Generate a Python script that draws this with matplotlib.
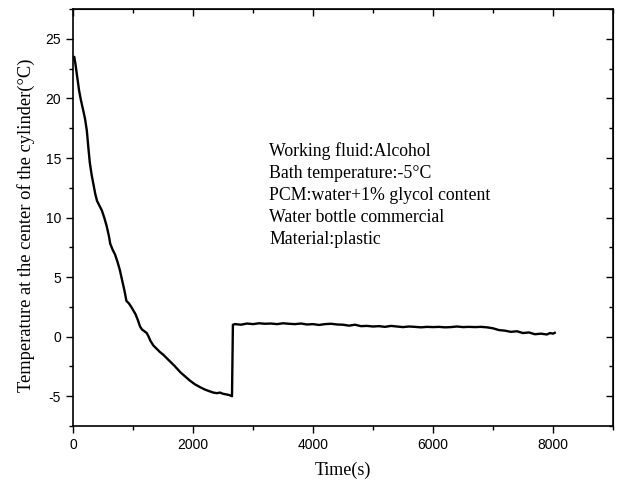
import matplotlib
matplotlib.use("Agg")
import matplotlib.pyplot as plt
from matplotlib.ticker import MultipleLocator

plt.rcParams["axes.unicode_minus"] = False

# Cooling curve at the cylinder centre: time (s) and temperature (°C)
time_s = [0, 20, 40, 70, 100, 130, 170, 200, 230, 255, 280, 310, 340, 370,
          400, 440, 480, 520, 560, 600, 620, 660, 700, 740, 780, 820, 860,
          890, 930, 970, 1005, 1040, 1080, 1117, 1150, 1190, 1228, 1260, 1290,
          1340, 1400, 1450, 1500, 1560, 1620, 1700, 1790, 1870, 1950, 2030,
          2120, 2200, 2280, 2340, 2400, 2450, 2500, 2550, 2600, 2650, 2665,
          2700, 2800, 2900, 3000, 3100, 3200, 3300, 3400, 3500, 3600, 3700,
          3800, 3900, 4000, 4100, 4200, 4300, 4400, 4500, 4600, 4700, 4800,
          4900, 5000, 5100, 5200, 5300, 5400, 5500, 5600, 5700, 5800, 5900,
          6000, 6100, 6200, 6300, 6400, 6500, 6600, 6700, 6800, 6900, 7000,
          7100, 7200, 7300, 7400, 7500, 7600, 7700, 7800, 7900, 7950, 8000,
          8030]
temp_c = [23.3, 23.5, 22.9, 21.8, 20.7, 19.9, 19.0, 18.3, 17.3, 15.9, 14.6,
          13.6, 12.8, 12.0, 11.4, 11.0, 10.6, 10.0, 9.3, 8.4, 7.8, 7.3, 6.9,
          6.3, 5.6, 4.7, 3.8, 3.0, 2.8, 2.5, 2.2, 1.9, 1.4, 0.85, 0.6, 0.45,
          0.3, 0.0, -0.35, -0.75, -1.05, -1.3, -1.5, -1.8, -2.1, -2.5, -3.0,
          -3.35, -3.7, -4.0, -4.25, -4.45, -4.6, -4.7, -4.75, -4.7, -4.8,
          -4.85, -4.9, -5.0, 1.0,
          1.05, 1.0, 1.1, 1.05, 1.12, 1.08, 1.1, 1.05, 1.12, 1.08, 1.05,
          1.1, 1.02, 1.05, 0.98, 1.05, 1.08, 1.02, 1.0, 0.92, 1.0, 0.88,
          0.9, 0.85, 0.88, 0.82, 0.9, 0.85, 0.8, 0.85, 0.82, 0.78, 0.82,
          0.8, 0.82, 0.78, 0.8, 0.85, 0.8, 0.82, 0.8, 0.82, 0.78, 0.7,
          0.55, 0.5, 0.4, 0.45, 0.3, 0.35, 0.2, 0.25, 0.18, 0.3, 0.25,
          0.32]

info_lines = [
    "Working fluid:Alcohol",
    "Bath temperature:-5°C",
    "PCM:water+1% glycol content",
    "Water bottle commercial",
    "Material:plastic",
]

serif = "Liberation Serif"
sans = "Liberation Sans"

fig = plt.figure(figsize=(6.21, 4.84), dpi=100)
ax = fig.add_axes([0.1176, 0.12, 0.8694, 0.861])

ax.plot(time_s, temp_c, color="black", linewidth=1.7)

ax.set_xlim(0, 9000)
ax.set_ylim(-7.5, 27.5)
ax.xaxis.set_major_locator(MultipleLocator(2000))
ax.xaxis.set_minor_locator(MultipleLocator(1000))
ax.yaxis.set_major_locator(MultipleLocator(5))
ax.yaxis.set_minor_locator(MultipleLocator(2.5))

# Origin-style ticks: outward on bottom/left, inward mirrors on top/right
ax.tick_params(which="both", direction="out", width=1.0, labelsize=10)
ax.tick_params(which="major", length=5)
ax.tick_params(which="minor", length=3)
for lbl in ax.get_xticklabels() + ax.get_yticklabels():
    lbl.set_family(sans)

top = ax.secondary_xaxis("top")
top.xaxis.set_major_locator(MultipleLocator(2000))
top.xaxis.set_minor_locator(MultipleLocator(1000))
top.set_xticklabels([])
right = ax.secondary_yaxis("right")
right.yaxis.set_major_locator(MultipleLocator(5))
right.yaxis.set_minor_locator(MultipleLocator(2.5))
right.set_yticklabels([])
for twin in (top, right):
    twin.tick_params(which="both", direction="in", width=1.0)
    twin.tick_params(which="major", length=5)
    twin.tick_params(which="minor", length=3)

for spine in ax.spines.values():
    spine.set_linewidth(1.2)

ax.set_xlabel("Time(s)", family=serif, fontsize=13, labelpad=7)
ax.set_ylabel("Temperature at the center of the cylinder(°C)", family=serif,
              fontsize=13.3)
ax.yaxis.set_label_coords(-0.071, 0.482)

ax.text(0.363, 0.68, "\n".join(info_lines), transform=ax.transAxes,
        family=serif, fontsize=12.8, va="top", ha="left", linespacing=1.38)

fig.savefig("out.png", dpi=100)
